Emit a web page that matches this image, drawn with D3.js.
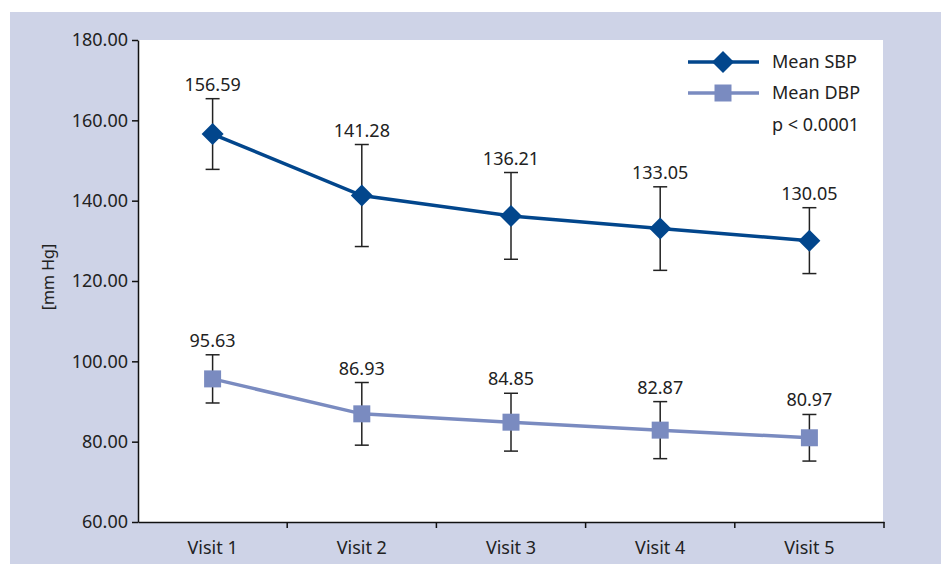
<!DOCTYPE html>
<html>
<head>
<meta charset="utf-8">
<script src="https://cdn.jsdelivr.net/npm/d3@7"></script>
<style>
  body { margin: 0; background: #fff; }
  svg { display: block; font-family: "Noto Sans", "Open Sans", sans-serif; }
</style>
</head>
<body>
<div id="chart"></div>
<script>
// values
const visits = ['Visit 1', 'Visit 2', 'Visit 3', 'Visit 4', 'Visit 5'];
const sbpMean = [156.59, 141.28, 136.21, 133.05, 130.05];
const sbpSd = [8.8, 12.7, 10.8, 10.4, 8.2];
const dbpMean = [95.63, 86.93, 84.85, 82.87, 80.97];
const dbpSd = [6.0, 7.8, 7.2, 7.1, 5.8];
const yTicks = [60, 80, 100, 120, 140, 160, 180];

const sbpColor = '#02468c';
const dbpColor = '#7a8bc0';
const frameColor = '#ced3e7';
const fontSize = '18px';

const dimensions = {
  width: 941,
  height: 565,
  margin: { top: 40, bottom: 43, left: 138, right: 58 }
};

const svg = d3.select('#chart').append('svg')
  .attr('width', dimensions.width)
  .attr('height', dimensions.height);

// lavender frame and white plot area
svg.append('rect').attr('x', 10).attr('y', 12).attr('width', 931).attr('height', 552).attr('fill', frameColor);
const bodyWidth = dimensions.width - dimensions.margin.left - dimensions.margin.right;
const bodyHeight = dimensions.height - dimensions.margin.top - dimensions.margin.bottom;
svg.append('rect')
  .attr('x', dimensions.margin.left).attr('y', dimensions.margin.top)
  .attr('width', bodyWidth).attr('height', bodyHeight)
  .attr('fill', '#fff');

const xScale = d3.scaleBand()
  .domain(visits)
  .range([dimensions.margin.left, dimensions.margin.left + bodyWidth + 1]);
const yScale = d3.scaleLinear()
  .domain([60, 180])
  .range([dimensions.margin.top + bodyHeight, dimensions.margin.top]);
const cx = d => xScale(d) + xScale.bandwidth() / 2;

// Y axis
const yAxis = d3.axisLeft(yScale).tickValues(yTicks).tickFormat(d3.format('.2f')).tickSize(6).tickPadding(4).tickSizeOuter(0);
const gy = svg.append('g')
  .attr('transform', `translate(${dimensions.margin.left},0)`)
  .call(yAxis);
gy.select('.domain').attr('stroke', '#111').attr('stroke-width', 1.5);
gy.selectAll('.tick line').attr('stroke', '#111').attr('stroke-width', 1.5);
gy.selectAll('.tick text').attr('font-size', fontSize).attr('fill', '#222').attr('font-family', '"Noto Sans", sans-serif');

svg.append('text')
  .attr('transform', `translate(54, ${yScale(121)}) rotate(-90)`)
  .attr('text-anchor', 'middle')
  .attr('font-size', '16px')
  .attr('fill', '#222')
  .text('[mm Hg]');

// X axis: labels at band centers, ticks at band edges
const xBottom = yScale(60);
const xAxis = d3.axisBottom(xScale).tickSize(0).tickPadding(19).tickSizeOuter(0);
const gx = svg.append('g')
  .attr('transform', `translate(0,${xBottom})`)
  .call(xAxis);
gx.select('.domain').attr('stroke', '#111').attr('stroke-width', 1.5);
gx.selectAll('.tick text').attr('font-size', fontSize).attr('fill', '#222').attr('font-family', '"Noto Sans", sans-serif');
const edges = visits.map(d => xScale(d)).concat([xScale.range()[1]]).slice(1);
gx.selectAll('.edge').data(edges).enter().append('line')
  .attr('class', 'edge')
  .attr('x1', d => d).attr('x2', d => d)
  .attr('y1', 0).attr('y2', 6)
  .attr('stroke', '#111').attr('stroke-width', 1.5);

// draws one series: error bars, line, markers, value labels
function drawSeries(means, sds, color, shape) {
  const data = visits.map((v, i) => ({ visit: v, mean: means[i], sd: sds[i] }));
  const g = svg.append('g');

  const bars = g.selectAll('.err').data(data).enter().append('g').attr('class', 'err')
    .attr('stroke', '#222').attr('stroke-width', 1.5);
  bars.append('line')
    .attr('x1', d => cx(d.visit)).attr('x2', d => cx(d.visit))
    .attr('y1', d => yScale(d.mean + d.sd)).attr('y2', d => yScale(d.mean - d.sd));
  bars.append('line')
    .attr('x1', d => cx(d.visit) - 7).attr('x2', d => cx(d.visit) + 7)
    .attr('y1', d => yScale(d.mean + d.sd)).attr('y2', d => yScale(d.mean + d.sd));
  bars.append('line')
    .attr('x1', d => cx(d.visit) - 7).attr('x2', d => cx(d.visit) + 7)
    .attr('y1', d => yScale(d.mean - d.sd)).attr('y2', d => yScale(d.mean - d.sd));

  const line = d3.line().x(d => cx(d.visit)).y(d => yScale(d.mean));
  g.append('path').datum(data)
    .attr('d', line)
    .attr('fill', 'none')
    .attr('stroke', color)
    .attr('stroke-width', 3.5);

  g.selectAll('.marker').data(data).enter().append('path')
    .attr('class', 'marker')
    .attr('transform', d => `translate(${cx(d.visit)},${yScale(d.mean)})`)
    .attr('d', shape)
    .attr('fill', color);

  g.selectAll('.val').data(data).enter().append('text')
    .attr('class', 'val')
    .attr('x', d => cx(d.visit))
    .attr('y', d => yScale(d.mean + d.sd) - 8)
    .attr('text-anchor', 'middle')
    .attr('font-size', fontSize)
    .attr('fill', '#222')
    .text(d => d.mean.toFixed(2));
}

const diamond = 'M0,-11L11,0L0,11L-11,0Z';
const square = 'M-8.5,-8.5H8.5V8.5H-8.5Z';
drawSeries(dbpMean, dbpSd, dbpColor, square);
drawSeries(sbpMean, sbpSd, sbpColor, diamond);

// legend
const legendItems = [
  { label: 'Mean SBP', color: sbpColor, shape: diamond, y: 62 },
  { label: 'Mean DBP', color: dbpColor, shape: square, y: 93 }
];
const legend = svg.append('g');
const item = legend.selectAll('.legendItem').data(legendItems).enter().append('g')
  .attr('class', 'legendItem')
  .attr('transform', d => `translate(0,${d.y})`);
item.append('line').attr('x1', 688).attr('x2', 759).attr('y1', 0).attr('y2', 0)
  .attr('stroke', d => d.color).attr('stroke-width', 3.5);
item.append('path').attr('transform', 'translate(723,0)').attr('d', d => d.shape).attr('fill', d => d.color);
item.append('text').attr('x', 772).attr('y', 6).attr('font-size', fontSize).attr('fill', '#222').text(d => d.label);
legend.append('text').attr('x', 772).attr('y', 131).attr('font-size', fontSize).attr('fill', '#222').text('p < 0.0001');
</script>
</body>
</html>
